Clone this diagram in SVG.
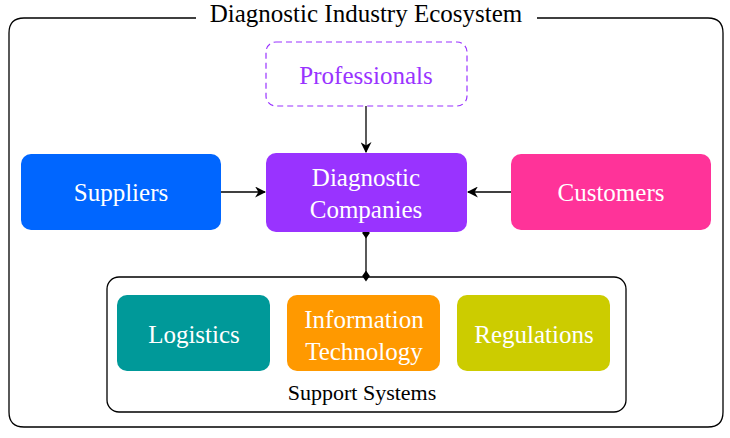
<svg xmlns="http://www.w3.org/2000/svg" width="730" height="438" viewBox="0 0 730 438">
<defs>
<style>
text{font-family:"Liberation Serif","DejaVu Serif",serif;text-anchor:middle;}
.n{fill:#fff;font-size:25px;}
.box{stroke:none;}
.c{stroke:#000;stroke-width:1.3;fill:none;}
</style>
<marker id="arr" viewBox="0 0 10 10" refX="9" refY="5" markerWidth="11" markerHeight="11" markerUnits="userSpaceOnUse" orient="auto">
<path d="M0,0 L10,5 L0,10 L3,5 Z" fill="#000"/>
</marker>
<marker id="dia" viewBox="0 0 10 10" refX="5" refY="5" markerWidth="11" markerHeight="11" markerUnits="userSpaceOnUse" orient="auto">
<path d="M0,5 L5,1.5 L10,5 L5,8.5 Z" fill="#000"/>
</marker>
</defs>
<rect width="730" height="438" fill="#fff"/>
<g id="frame">
<path d="M195,18 H708 Q723,18 723,33 V412 Q723,427 708,427 H24 Q9,427 9,412 V33 Q9,18 24,18 H195" fill="none" stroke="#000" stroke-width="1.3"/>
<rect x="196" y="4" width="341" height="26" fill="#fff"/>
<text x="366" y="22" font-size="25" fill="#000">Diagnostic Industry Ecosystem</text>
</g>
<g id="support">
<rect x="107" y="277" width="519" height="135" rx="12" fill="#fff" stroke="#000" stroke-width="1.3"/>
<text x="362" y="400" font-size="22" fill="#000">Support Systems</text>
</g>
<g id="connectors">
<line class="c" x1="366" y1="106" x2="366" y2="152" marker-end="url(#arr)"/>
<line class="c" x1="221" y1="192" x2="265" y2="192" marker-end="url(#arr)"/>
<line class="c" x1="511" y1="192" x2="468" y2="192" marker-end="url(#arr)"/>
<line class="c" x1="366" y1="233" x2="366" y2="276" marker-start="url(#dia)" marker-end="url(#dia)"/>
</g>
<g id="professionals">
<rect x="266" y="42" width="201" height="64" rx="10" fill="#fff" stroke="#9933ff" stroke-width="1.2" stroke-dasharray="6,4"/>
<text x="366" y="84" font-size="25" fill="#9933ff">Professionals</text>
</g>
<g id="diagnostic">
<rect class="box" x="266" y="153" width="201" height="79" rx="10" fill="#9933ff"/>
<text class="n" x="366" y="186">Diagnostic</text>
<text class="n" x="366" y="218">Companies</text>
</g>
<g id="suppliers">
<rect class="box" x="21" y="154" width="200" height="76" rx="10" fill="#0066ff"/>
<text class="n" x="121" y="201">Suppliers</text>
</g>
<g id="customers">
<rect class="box" x="511" y="154" width="200" height="76" rx="10" fill="#ff3399"/>
<text class="n" x="611" y="201">Customers</text>
</g>
<g id="logistics">
<rect class="box" x="117" y="295" width="153" height="76" rx="10" fill="#009999"/>
<text class="n" x="194" y="343">Logistics</text>
</g>
<g id="it">
<rect class="box" x="287" y="295" width="153" height="76" rx="10" fill="#ff9900"/>
<text class="n" x="364" y="328">Information</text>
<text class="n" x="364" y="360">Technology</text>
</g>
<g id="regulations">
<rect class="box" x="457" y="295" width="153" height="76" rx="10" fill="#cccc00"/>
<text class="n" x="534" y="343">Regulations</text>
</g>
</svg>
